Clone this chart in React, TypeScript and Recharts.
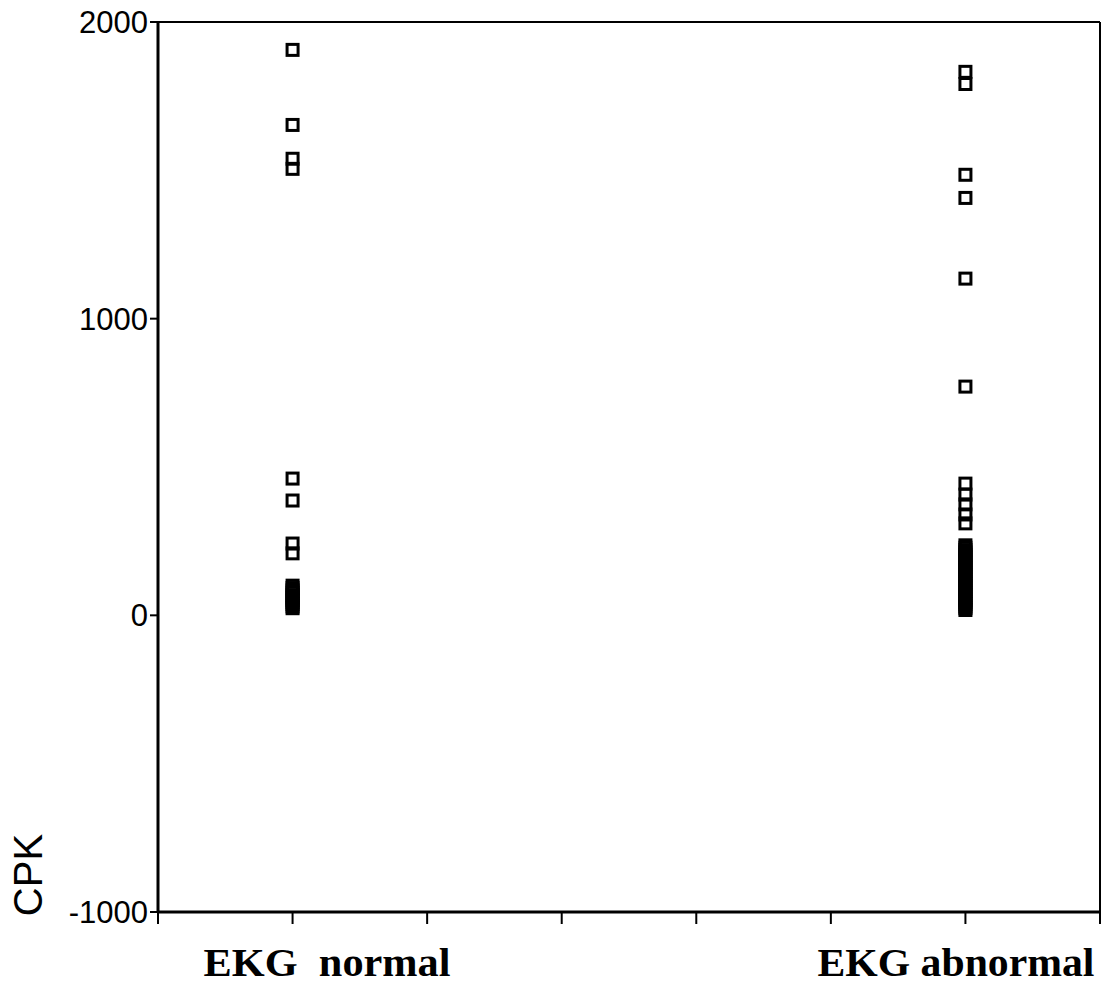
import { ReferenceLine, Scatter, ScatterChart, XAxis, YAxis } from 'recharts'

const categoryPositions = [1, 6]
const categoryLabels = ['EKG  normal', 'EKG abnormal']
const xTicks = [0, 1, 2, 3, 4, 5, 6, 7]
const yTicks = [-1000, 0, 1000, 2000]

const normalCPK = [
  1906, 1653, 1539, 1505, 461, 387, 242, 209, 100, 92, 84, 76, 68, 60, 52, 45, 38, 30, 24,
]
const abnormalCPK = [
  1832, 1791, 1485, 1407, 1135, 771, 444, 407, 374, 340, 310, 236, 228, 220, 212, 204, 196, 188,
  180, 172, 165, 158, 150, 142, 135, 128, 120, 112, 105, 98, 90, 82, 75, 68, 60, 52, 45, 38, 30,
  24, 18,
]

const normalPoints = normalCPK.map((cpk) => ({ x: categoryPositions[0], cpk }))
const abnormalPoints = abnormalCPK.map((cpk) => ({ x: categoryPositions[1], cpk }))

// label placement relative to its tick (the scanned labels are not centred)
const labelLayout: Record<string, { dx: number; width: number }> = {
  'EKG  normal': { dx: -89, width: 247 },
  'EKG abnormal': { dx: -148, width: 277 },
}

function CategoryTick(props: any) {
  const { x, y, payload } = props
  const idx = categoryPositions.indexOf(payload.value)
  if (idx < 0) return null
  const label = categoryLabels[idx]
  const layout = labelLayout[label]
  return (
    <text
      x={x + layout.dx}
      y={y + 52}
      textAnchor="start"
      fontFamily="'Liberation Serif', 'Times New Roman', serif"
      fontWeight="bold"
      fontSize={41}
      fill="#000"
      textLength={layout.width}
      lengthAdjust="spacingAndGlyphs"
      style={{ whiteSpace: 'pre' }}
    >
      {label}
    </text>
  )
}

function SquareMarker(props: any) {
  const { cx, cy } = props
  return (
    <rect x={cx - 5.5} y={cy - 5.5} width={11} height={11} fill="none" stroke="#000" strokeWidth={3} />
  )
}

export default function App() {
  return (
    <div style={{ position: 'absolute', left: 0, top: 0, width: 1107, height: 988, background: '#fff' }}>
      <ScatterChart width={1107} height={988} margin={{ top: 22, right: 7, left: 0, bottom: 0 }}>
        <XAxis
          type="number"
          dataKey="x"
          domain={[0, 7]}
          ticks={xTicks}
          interval={0}
          height={76}
          tickSize={12}
          tickMargin={0}
          axisLine={{ stroke: '#000', strokeWidth: 3 }}
          tickLine={{ stroke: '#000', strokeWidth: 2 }}
          tick={<CategoryTick />}
        />
        <YAxis
          type="number"
          dataKey="cpk"
          domain={[-1000, 2000]}
          ticks={yTicks}
          interval={0}
          width={158}
          tickSize={8}
          tickMargin={2}
          axisLine={{ stroke: '#000', strokeWidth: 3 }}
          tickLine={{ stroke: '#000', strokeWidth: 2 }}
          tick={{ fill: '#000', fontSize: 31, fontFamily: "'Liberation Sans', Arial, sans-serif" }}
          label={{
            value: 'CPK',
            content: () => (
              <text
                x={0}
                y={0}
                transform="translate(42, 875) rotate(-90)"
                textAnchor="middle"
                fontSize={40}
                fontFamily="'Liberation Sans', Arial, sans-serif"
                fill="#000"
              >
                CPK
              </text>
            ),
          }}
        />
        <ReferenceLine y={2000} stroke="#000" strokeWidth={2} ifOverflow="visible" />
        <ReferenceLine x={7} stroke="#000" strokeWidth={2} ifOverflow="visible" />
        <Scatter data={normalPoints} shape={<SquareMarker />} isAnimationActive={false} />
        <Scatter data={abnormalPoints} shape={<SquareMarker />} isAnimationActive={false} />
      </ScatterChart>
    </div>
  )
}
